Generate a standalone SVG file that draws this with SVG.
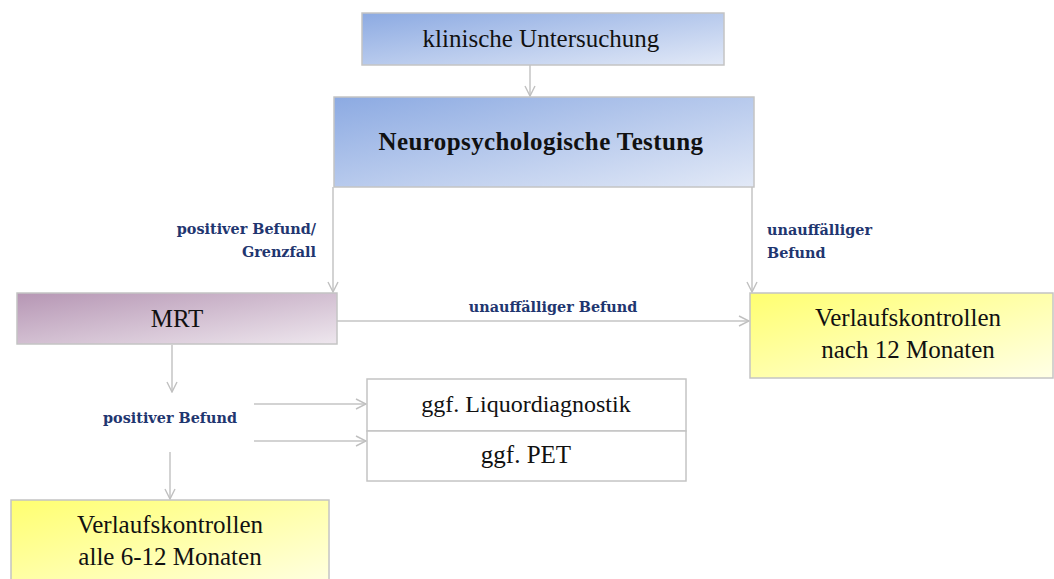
<svg xmlns="http://www.w3.org/2000/svg" width="1054" height="579" viewBox="0 0 1054 579">
<defs>
<linearGradient id="gBlue" x1="0" y1="0" x2="1" y2="1">
<stop offset="0" stop-color="#8caae2"/><stop offset="1" stop-color="#e2e9f7"/>
</linearGradient>
<linearGradient id="gPurple" x1="0" y1="0" x2="1" y2="1">
<stop offset="0" stop-color="#b696b4"/><stop offset="1" stop-color="#eee7ee"/>
</linearGradient>
<linearGradient id="gYellow" x1="0" y1="0" x2="1" y2="1">
<stop offset="0" stop-color="#ffff70"/><stop offset="1" stop-color="#ffffe6"/>
</linearGradient>
<marker id="arr" viewBox="0 0 12 12" refX="11" refY="6" markerWidth="12" markerHeight="12" markerUnits="userSpaceOnUse" orient="auto">
<path d="M1,1 L11,6 L1,11" fill="none" stroke="#c0c0c0" stroke-width="1.4"/>
</marker>
<style>
.box{stroke:#c4c4c4;stroke-width:1.5}
.t{font-family:"Liberation Serif","Times New Roman",serif;font-size:25px;fill:#111;text-anchor:middle}
.tb{font-family:"Liberation Serif","Times New Roman",serif;font-size:25px;font-weight:bold;fill:#111;text-anchor:middle;letter-spacing:0.4px}
.lbl{font-family:"DejaVu Serif","Liberation Serif",serif;font-size:14.4px;font-weight:bold;fill:#1f3670}
.c{fill:none;stroke:#c4c4c4;stroke-width:1.5;marker-end:url(#arr)}
</style>
</defs>
<g id="connectors">
<path class="c" d="M530,65 V96"/>
<path class="c" d="M333,187 V292"/>
<path class="c" d="M752,187 V292"/>
<path class="c" d="M337,321 H749"/>
<path class="c" d="M172,345 V392"/>
<path class="c" d="M254,404 H366"/>
<path class="c" d="M254,441 H366"/>
<path class="c" d="M170,452 V499"/>
<text class="lbl" x="316" y="234" text-anchor="end">positiver Befund/</text>
<text class="lbl" x="316" y="257" text-anchor="end">Grenzfall</text>
<text class="lbl" x="767" y="235">unauffälliger</text>
<text class="lbl" x="767" y="258">Befund</text>
<text class="lbl" x="553" y="312" text-anchor="middle">unauffälliger Befund</text>
<text class="lbl" x="170" y="423" text-anchor="middle">positiver Befund</text>
</g>
<g id="klinische">
<rect class="box" x="362" y="13" width="362" height="52" fill="url(#gBlue)"/>
<text class="t" x="541" y="47">klinische Untersuchung</text>
</g>
<g id="neuro">
<rect class="box" x="334" y="97" width="420" height="90" fill="url(#gBlue)"/>
<text class="tb" x="541" y="150">Neuropsychologische Testung</text>
</g>
<g id="mrt">
<rect class="box" x="17" y="293" width="320" height="51" fill="url(#gPurple)"/>
<text class="t" x="177" y="327">MRT</text>
</g>
<g id="verlauf12">
<rect class="box" x="750" y="293" width="303" height="85" fill="url(#gYellow)"/>
<text class="t" x="908" y="326">Verlaufskontrollen</text>
<text class="t" x="908" y="358">nach 12 Monaten</text>
</g>
<g id="liquor">
<rect class="box" x="367" y="379" width="319" height="52" fill="#fff"/>
<text class="t" x="526" y="412" style="font-size:24px">ggf. Liquordiagnostik</text>
</g>
<g id="pet">
<rect class="box" x="367" y="431" width="319" height="50" fill="#fff"/>
<text class="t" x="526" y="463">ggf. PET</text>
</g>
<g id="verlauf6">
<rect class="box" x="11" y="500" width="318" height="90" fill="url(#gYellow)"/>
<text class="t" x="170" y="533">Verlaufskontrollen</text>
<text class="t" x="170" y="565">alle 6-12 Monaten</text>
</g>
</svg>
